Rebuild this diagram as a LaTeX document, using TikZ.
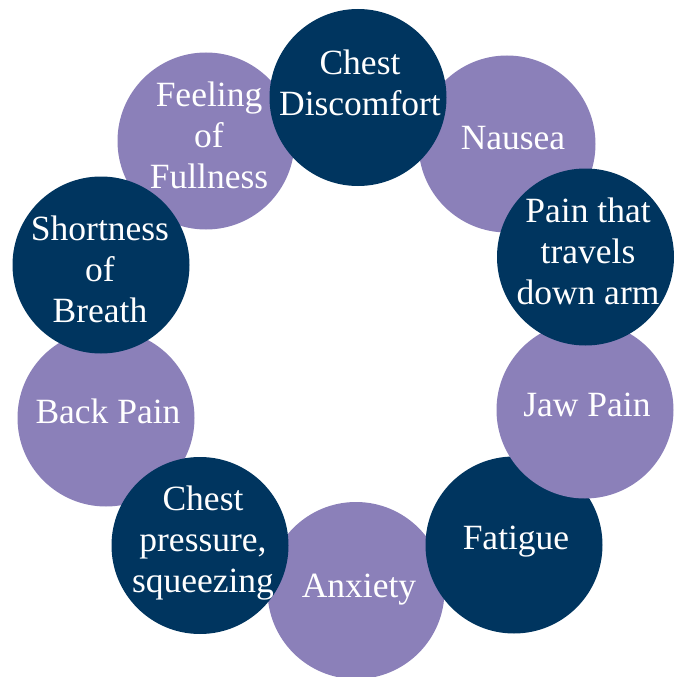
\documentclass[tikz,border=0pt]{standalone}
\usepackage{fontspec}
\setmainfont{Liberation Serif}
\definecolor{navy}{HTML}{00355F}
\definecolor{lilac}{HTML}{8B80B9}
\begin{document}
\begin{tikzpicture}[
  x=1pt, y=-1pt,
  lightdot/.style={circle, fill=lilac, draw=none, inner sep=0pt, minimum size=177pt},
  darkdot/.style={circle, fill=navy, draw=none, inner sep=0pt, minimum size=177pt},
  symtext/.style={text=white, align=center, inner sep=0pt,
                  font=\fontsize{35.5}{41}\selectfont},
]
\useasboundingbox (0,0) rectangle (681,677);

% Ring: purple circles (underneath)
\node[lightdot] (nausea)  at (507,144)   {};
\node[lightdot] (fullness) at (206,141)  {};
\node[lightdot] (back)    at (106,418)   {};
\node[lightdot] (anxiety) at (356,590.5) {};

% Ring: dark circles
\node[darkdot] (discomfort) at (358,97.5)  {};
\node[darkdot] (breath)     at (101,265)   {};
\node[darkdot] (pressure)   at (200,545.5) {};
\node[darkdot] (fatigue)    at (514,545)   {};

% Jaw sits over Fatigue, under the arm circle
\node[lightdot] (jaw) at (585,410) {};
\node[darkdot]  (arm) at (585.5,257) {};

% Labels
\node[symtext] (discomfortT) at (360,83)  {Chest\\Discomfort};
\node[symtext] (nauseaT)     at (513,138) {Nausea};
\node[symtext] (armT)        at (588,251) {Pain that\\travels\\down arm};
\node[symtext] (jawT)        at (587,405) {Jaw Pain};
\node[symtext] (fatigueT)    at (516,542) {Fatigue};
\node[symtext] (anxietyT)    at (359,590) {Anxiety};
\node[symtext] (pressureT)   at (203,543) {Chest\\pressure,\\squeezing};
\node[symtext] (backT)       at (108,411) {Back Pain};
\node[symtext] (breathT)     at (100,269) {Shortness\\of\\Breath};
\node[symtext] (fullnessT)   at (209,135) {Feeling\\of\\Fullness};

\end{tikzpicture}
\end{document}
